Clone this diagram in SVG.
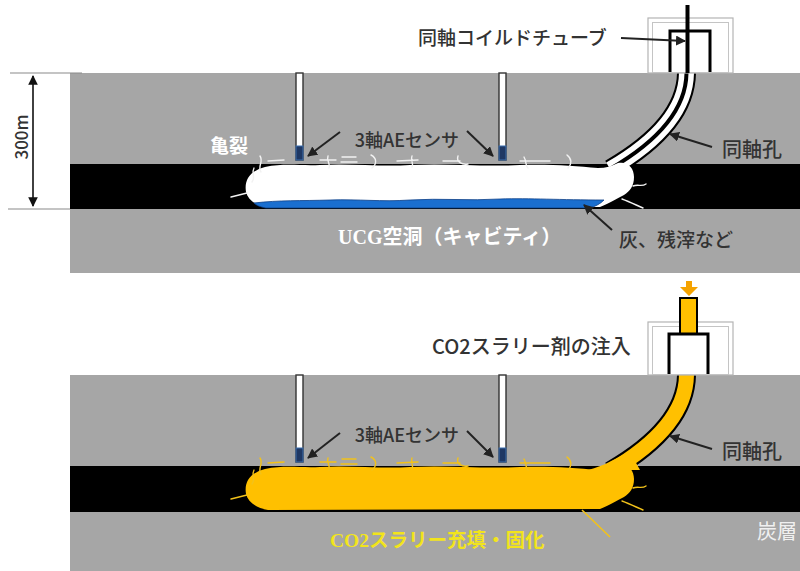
<svg xmlns="http://www.w3.org/2000/svg" xmlns:xlink="http://www.w3.org/1999/xlink" width="800" height="571" viewBox="0 0 800 571">
  <style>
    .ground { fill: #a6a6a6; }
    .seam { fill: #000; }
    .lbl { font-family: "Noto Sans CJK JP", "Noto Sans", sans-serif; fill: #333333; font-weight: 500; }
    .wlbl { font-family: "Noto Sans CJK JP", "Noto Sans", sans-serif; fill: #ffffff; font-weight: bold; }
    .serif { font-family: "Liberation Serif", serif; font-weight: bold; }
    .well { fill: #ffffff; stroke: #333333; stroke-width: 1.4; }
    .sensor { fill: #1f3864; stroke: #3d6fae; stroke-width: 1; }
    .ptr { stroke: #222; stroke-width: 2; fill: none; marker-end: url(#ah); }
    .box-o { fill: #ffffff; stroke: #b4b4b4; stroke-width: 1.2; }
    .box-i { fill: none; stroke: #c4c4c4; stroke-width: 1; }
    .pi { fill: none; stroke: #000; stroke-width: 3; }
  </style>
  <defs>
    <marker id="ah" viewBox="0 0 10 10" refX="9" refY="5" markerWidth="5" markerHeight="5" orient="auto" markerUnits="strokeWidth">
      <path d="M0,0 L10,5 L0,10 Z" fill="#222"/>
    </marker>
    <marker id="dim" viewBox="0 0 10 10" refX="9" refY="5" markerWidth="6" markerHeight="6" orient="auto-start-reverse" markerUnits="strokeWidth">
      <path d="M0,0 L10,5 L0,10 Z" fill="#111"/>
    </marker>
    <!-- burnt-out cavity outline (upper section coordinates) -->
    <path id="cavity" d="M 246 192 C 244 180, 250 171, 265 167 C 285 163, 300 166, 320 165 C 350 163, 380 167, 410 165 C 450 163, 480 167, 520 165 C 550 164, 575 166, 598 168 C 606 168, 612 166, 618 163 C 628 161, 634 168, 634 177 C 634 186, 630 191, 624 195 C 616 199, 610 203, 600 207 L 268 208 C 256 206, 248 200, 246 192 Z"/>
    <!-- hairline fractures around the cavity -->
    <g id="cracks" fill="none" stroke-width="1.4" stroke-linecap="round">
      <path d="M 261 172 C 257 166, 264 162, 260 156"/>
      <path d="M 268 161 L 284 160"/>
      <path d="M 320 160 L 336 160 M 328 156 C 326 161, 331 164, 329 168"/>
      <path d="M 342 157 L 356 157 M 341 162 L 357 162"/>
      <path d="M 371 155 C 377 158, 377 164, 372 168"/>
      <path d="M 397 161 L 418 160 M 412 156 C 410 160, 414 163, 412 167"/>
      <path d="M 443 161 L 460 161 M 458 156 C 456 162, 462 165, 468 164"/>
      <path d="M 524 157 C 527 162, 525 166, 528 168 M 520 161 L 550 161"/>
      <path d="M 567 155 C 572 159, 572 164, 568 168"/>
      <path d="M 231 197 L 247 193"/>
      <path d="M 252 182 C 256 177, 251 173, 254 168"/>
      <path d="M 633 186 C 638 184, 642 187, 646 184"/>
      <path d="M 622 199 C 630 202, 636 205, 643 208"/>
    </g>
  </defs>

  <rect width="800" height="571" fill="#ffffff"/>

  <!-- upper section: after gasification -->
  <g id="strata-upper">
    <rect class="ground" x="70" y="73" width="730" height="200"/>
    <rect class="seam" x="70" y="164" width="730" height="45"/>
  </g>

  <g id="depth-scale">
    <line x1="10" y1="73" x2="82" y2="73" stroke="#8a8a8a" stroke-width="1.2"/>
    <line x1="8" y1="209" x2="70" y2="209" stroke="#8a8a8a" stroke-width="1.2"/>
    <line x1="33" y1="76" x2="33" y2="206" stroke="#111" stroke-width="1.6" marker-start="url(#dim)" marker-end="url(#dim)"/>
    <text class="lbl" x="0" y="0" font-size="17" text-anchor="middle" transform="translate(28,137) rotate(-90)">300m</text>
  </g>

  <g id="coax-hole-upper">
    <path d="M 686.5 73 C 686 108, 660 140, 610 169" fill="none" stroke="#000" stroke-width="19"/>
    <path d="M 686.5 73 C 686 108, 660 140, 610 169" fill="none" stroke="#fff" stroke-width="15"/>
    <path d="M 686.5 73 C 686 108, 660 140, 610 169" fill="none" stroke="#000" stroke-width="4"/>
  </g>

  <g id="cavity-upper">
    <use xlink:href="#cavity" fill="#ffffff"/>
    <path d="M 254 203 C 280 200, 300 201, 330 200 C 360 199, 380 202, 410 200 C 440 198, 470 201, 500 199 C 530 198, 560 200, 604 200 C 600 204, 596 206, 590 208 L 266 208 C 260 207, 256 205, 254 203 Z" fill="#1a6fd0" stroke="#0d3f86" stroke-width="0.8"/>
    <use xlink:href="#cracks" stroke="#f2f2f2"/>
  </g>

  <g id="wellhead-upper">
    <rect class="box-o" x="648" y="18" width="85" height="55"/>
    <rect class="box-i" x="652.5" y="22.5" width="76" height="50"/>
    <path class="pi" d="M 670 72 L 670 31 L 710 31 L 710 72"/>
    <path d="M 687.5 5 L 687.5 73" stroke="#000" stroke-width="4"/>
  </g>

  <g id="sensor-wells-upper">
    <rect class="well" x="296" y="73" width="7" height="87"/>
    <rect class="sensor" x="296" y="146" width="7" height="14"/>
    <rect class="well" x="499" y="73" width="7" height="87"/>
    <rect class="sensor" x="499" y="146" width="7" height="14"/>
  </g>

  <g id="labels-upper">
    <text class="lbl" x="418" y="45" font-size="19">同軸コイルドチューブ</text>
    <text class="lbl" x="407" y="147" font-size="18" text-anchor="middle">3軸AEセンサ</text>
    <text class="wlbl" x="210" y="153" font-size="19">亀裂</text>
    <text class="wlbl" x="338" y="244" font-size="20"><tspan class="serif">UCG</tspan>空洞（キャビティ）</text>
    <text class="lbl" x="722" y="157" font-size="20">同軸孔</text>
    <text class="lbl" x="619" y="247" font-size="19">灰、残滓など</text>
  </g>

  <!-- lower section: slurry injection -->
  <g id="strata-lower">
    <rect class="ground" x="70" y="375" width="730" height="196"/>
    <rect class="seam" x="70" y="466" width="730" height="46"/>
  </g>

  <g id="coax-hole-lower">
    <path d="M 686.5 375 C 686 410, 660 442, 610 471" fill="none" stroke="#000" stroke-width="19"/>
    <path d="M 686.5 375 C 686 410, 660 442, 610 471" fill="none" stroke="#ffc000" stroke-width="15"/>
    <path d="M 588 470 C 605 466, 615 458, 630 452 L 640 470 Z" fill="#ffc000"/>
  </g>

  <g id="cavity-lower">
    <use xlink:href="#cavity" fill="#ffc000" transform="translate(0,302)"/>
    <use xlink:href="#cracks" stroke="#f2c21a" transform="translate(0,302)"/>
    <path d="M 582 510 L 610 537" stroke="#f2c21a" stroke-width="1.6" fill="none"/>
  </g>

  <g id="wellhead-lower">
    <rect class="box-o" x="648" y="322" width="85" height="53"/>
    <rect class="box-i" x="652.5" y="326.5" width="76" height="48"/>
    <rect x="680" y="298" width="17" height="36" fill="#ffc000" stroke="#000" stroke-width="2"/>
    <path class="pi" d="M 669 374 L 669 334 L 708 334 L 708 374"/>
    <path d="M 686 281 L 692 281 L 692 287 L 698 287 L 689 296 L 680 287 L 686 287 Z" fill="#f5a300"/>
  </g>

  <g id="sensor-wells-lower">
    <rect class="well" x="296" y="375" width="7" height="87"/>
    <rect class="sensor" x="296" y="448" width="7" height="14"/>
    <rect class="well" x="499" y="375" width="7" height="87"/>
    <rect class="sensor" x="499" y="448" width="7" height="14"/>
  </g>

  <g id="labels-lower">
    <text class="lbl" x="432" y="354" font-size="20">CO2スラリー剤の注入</text>
    <text class="lbl" x="407" y="442" font-size="18" text-anchor="middle">3軸AEセンサ</text>
    <text class="lbl" x="722" y="459" font-size="20">同軸孔</text>
    <text class="wlbl" x="330" y="547" font-size="19.5" style="fill:#f2e41c"><tspan class="serif">CO2</tspan>スラリー充填・固化</text>
    <text class="wlbl" x="757" y="539" font-size="20" style="fill:#f0f0f0;font-weight:normal">炭層</text>
  </g>

  <g id="connectors">
    <line class="ptr" x1="621" y1="38" x2="685" y2="41"/>
    <line class="ptr" x1="340" y1="132" x2="308" y2="156"/>
    <line class="ptr" x1="467" y1="131" x2="493" y2="156"/>
    <line class="ptr" x1="712" y1="147" x2="670" y2="134"/>
    <line class="ptr" x1="612" y1="230" x2="584" y2="205"/>
    <line class="ptr" x1="340" y1="433" x2="308" y2="458"/>
    <line class="ptr" x1="467" y1="431" x2="493" y2="457"/>
    <line class="ptr" x1="712" y1="449" x2="670" y2="436"/>
  </g>
</svg>
